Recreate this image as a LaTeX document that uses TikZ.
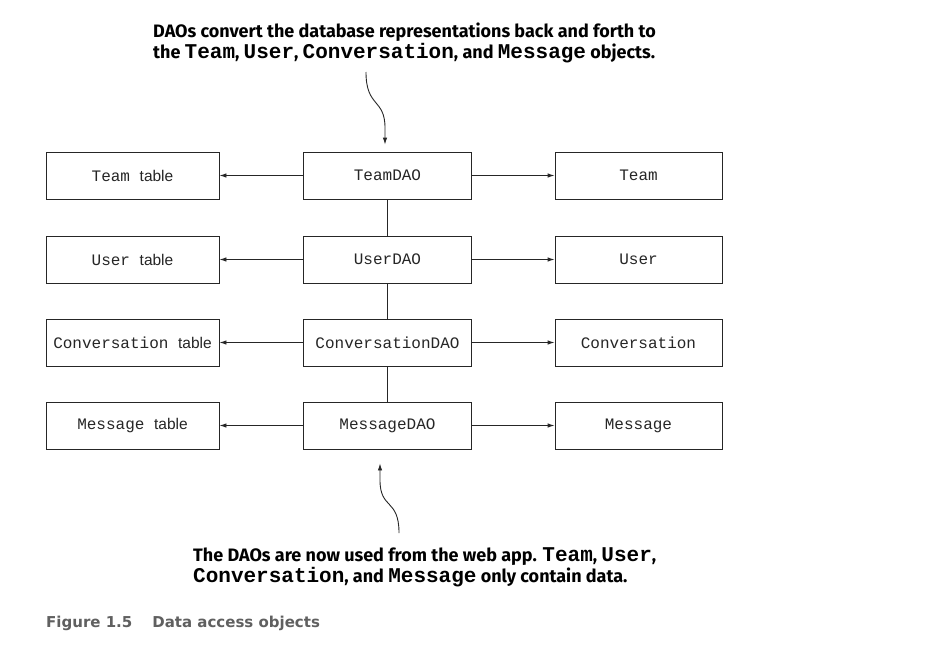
\documentclass[tikz,border=0pt]{standalone}
\usepackage{fontspec}
\usetikzlibrary{arrows.meta}
\newfontfamily\annot{Fira Sans}
\newfontfamily\mono{Liberation Mono}
\newfontfamily\tsans{Liberation Sans}
\newfontfamily\capfont{DejaVu Sans}
\definecolor{capgray}{HTML}{606060}
\definecolor{ink}{HTML}{262626}
\newcommand{\am}[1]{{\mono\bfseries\fontsize{21}{21}\selectfont #1}}
\newcommand{\tb}[1]{{\mono #1}~{\tsans\fontsize{15.5}{18}\selectfont table}}
\begin{document}
\begin{tikzpicture}[x=1pt,y=-1pt,
  box/.style={draw=ink, line width=0.9pt, minimum height=47pt, inner sep=0pt,
    font=\mono\fontsize{16}{18}\selectfont, text=ink},
  lbox/.style={box, minimum width=173pt},
  mbox/.style={box, minimum width=168pt},
  rbox/.style={box, minimum width=167pt},
  arr/.style={draw=ink, line width=0.9pt, -{Latex[length=7pt,width=4.5pt]}},
  link/.style={draw=ink, line width=0.9pt},
  annotxt/.style={font=\annot\bfseries\fontsize{18}{21}\selectfont, align=left, inner sep=0pt, text=black}]
\useasboundingbox (0,0) rectangle (927,648);
\fill[white] (0,0) rectangle (927,648);

\node[lbox] (tt) at (132.5,175.5) {\tb{Team}};
\node[lbox] (ut) at (132.5,259.5) {\tb{User}};
\node[lbox] (ct) at (132.5,342.5) {\tb{Conversation}};
\node[lbox] (mt) at (132.5,425.5) {\tb{Message}};

\node[mbox] (td) at (387.5,175.5) {TeamDAO};
\node[mbox] (ud) at (387.5,259.5) {UserDAO};
\node[mbox] (cd) at (387.5,342.5) {ConversationDAO};
\node[mbox] (md) at (387.5,425.5) {MessageDAO};

\node[rbox] (to) at (638.5,175.5) {Team};
\node[rbox] (uo) at (638.5,259.5) {User};
\node[rbox] (co) at (638.5,342.5) {Conversation};
\node[rbox] (mo) at (638.5,425.5) {Message};

\foreach \d/\t/\o in {td/tt/to, ud/ut/uo, cd/ct/co, md/mt/mo}{
  \draw[arr] (\d.west) -- (\t.east);
  \draw[arr] (\d.east) -- (\o.west);
}
\draw[link] (td) -- (ud);
\draw[link] (ud) -- (cd);
\draw[link] (cd) -- (md);

\node[annotxt, anchor=base west] (topnote) at (153,58)
  {DAOs convert the database representations back and forth to\\
   the \am{Team}, \am{User}, \am{Conversation}, and \am{Message} objects.};
\node[annotxt, anchor=base west] (botnote) at (193,582)
  {The DAOs are now used from the web app. \am{Team}, \am{User},\\
   \am{Conversation}, and \am{Message} only contain data.};

\coordinate (ts) at (366,72);
\coordinate (bs) at (399,533);
\draw[arr] (ts) .. controls (366,108) and (385,98) .. (385,128) -- ([xshift=-2.5pt,yshift=7pt]td.north);
\draw[arr] (bs) .. controls (399,498) and (380,510) .. (380,480) -- ([xshift=-7.5pt,yshift=-14pt]md.south);

\node[anchor=base west, inner sep=0pt, text=capgray, font=\capfont\bfseries\fontsize{15}{18}\selectfont] (cap) at (46,627)
  {Figure 1.5\hspace{20pt}Data access objects};
\end{tikzpicture}
\end{document}
